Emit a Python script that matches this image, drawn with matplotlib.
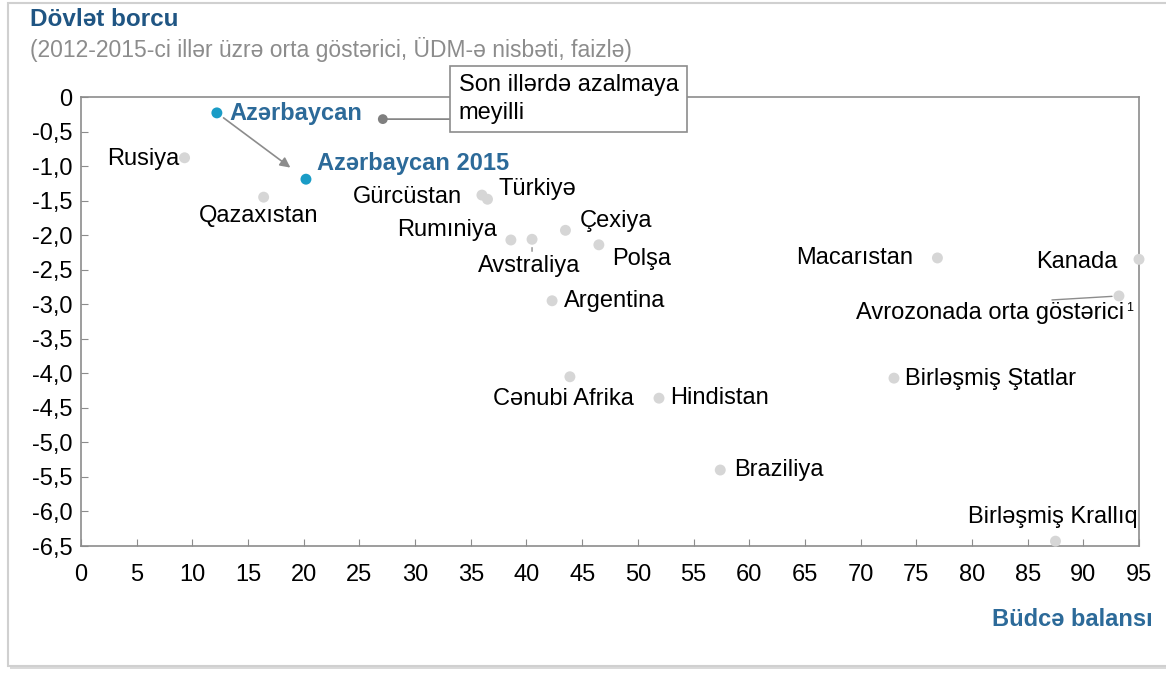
import matplotlib.pyplot as plt
from matplotlib.patches import Rectangle

plt.rcParams['font.family'] = ['Liberation Sans', 'DejaVu Sans']

# Data (x = Büdcə balansı, y = Dövlət borcu)
countries = ['Rusiya', 'Qazaxıstan', 'Gürcüstan', 'Türkiyə', 'Rumıniya', 'Avstraliya',
             'Çexiya', 'Polşa', 'Argentina', 'Cənubi Afrika', 'Hindistan', 'Braziliya',
             'Macarıstan', 'Kanada', 'Avrozonada orta göstərici', 'Birləşmiş Ştatlar',
             'Birləşmiş Krallıq']
x_vals = [9.3, 16.4, 36.0, 36.5, 38.6, 40.5, 43.5, 46.5, 42.3, 43.9, 51.9, 57.4,
          76.9, 95.0, 93.2, 73.0, 87.5]
y_vals = [-0.88, -1.45, -1.42, -1.48, -2.07, -2.06, -1.93, -2.14, -2.95, -4.05, -4.36, -5.40,
          -2.33, -2.35, -2.88, -4.07, -6.43]

aze_x, aze_y = 12.2, -0.23
aze15_x, aze15_y = 20.2, -1.19
trend_x, trend_y = 27.1, -0.32

x_ticks = list(range(0, 96, 5))
y_ticks = [0, -0.5, -1, -1.5, -2, -2.5, -3, -3.5, -4, -4.5, -5, -5.5, -6, -6.5]
y_tick_labels = ['0', '-0,5', '-1,0', '-1,5', '-2,0', '-2,5', '-3,0', '-3,5',
                 '-4,0', '-4,5', '-5,0', '-5,5', '-6,0', '-6,5']

# label offsets in pixels (dx, dy down) and alignment
label_pos = {
    'Rusiya': (-5, 1, 'right'),
    'Qazaxıstan': (-5, 19, 'center'),
    'Gürcüstan': (-20, 2, 'right'),
    'Türkiyə': (11, -10, 'left'),
    'Rumıniya': (-14, -10, 'right'),
    'Avstraliya': (-3, 27, 'center'),
    'Çexiya': (14, -9, 'left'),
    'Polşa': (13, 14, 'left'),
    'Argentina': (12, 0, 'left'),
    'Cənubi Afrika': (-6, 22, 'center'),
    'Hindistan': (11, 0, 'left'),
    'Braziliya': (14, 0, 'left'),
    'Macarıstan': (-24, 0, 'right'),
    'Kanada': (-22, 3, 'right'),
    'Avrozonada orta göstərici': (5, 17, 'right'),
    'Birləşmiş Ştatlar': (11, 1, 'left'),
    'Birləşmiş Krallıq': (-3, -24, 'center'),
}

FS = 17
W, H = 1166, 675
fig = plt.figure(figsize=(W / 100, H / 100), dpi=100)

# outer frame with a soft shadow
fig.patches.append(Rectangle((10 / W, 1 - 669 / H), 1.2, 665 / H, transform=fig.transFigure,
                             facecolor='#DADADA', edgecolor='none', zorder=-2))
fig.patches.append(Rectangle((8 / W, 1 - 666 / H), 1.2, 663 / H, transform=fig.transFigure,
                             facecolor='white', edgecolor='#D0D0D0', lw=1.5, zorder=-1))

ax = fig.add_axes([81 / W, 1 - 546 / H, (1139 - 81) / W, (546 - 97) / H])
ax.set_facecolor('none')
ax.set_xlim(0, 95)
ax.set_ylim(-6.5, 0)

for s in ax.spines.values():
    s.set_color('#8C8C8C')
    s.set_linewidth(1.2)

ax.set_xticks(x_ticks)
ax.set_yticks(y_ticks)
ax.set_yticklabels(y_tick_labels)
ax.tick_params(axis='x', direction='in', length=5, color='#8C8C8C', pad=13, labelsize=FS)
ax.tick_params(axis='y', direction='in', length=5, color='#8C8C8C', pad=6, labelsize=FS)

px = 0.72  # pixels -> points

ax.scatter(x_vals, y_vals, s=62, color='#D6D6D6', zorder=3, clip_on=False, edgecolors='none')
for name, xv, yv in zip(countries, x_vals, y_vals):
    dx, dy, ha = label_pos[name]
    ax.annotate(name, (xv, yv), xytext=(dx * px, -dy * px), textcoords='offset points',
                ha=ha, va='center', fontsize=FS, color='black', annotation_clip=False)

# Avstraliya small tick and Avrozona leader line
ax.annotate('', xy=(40.5, -2.06), xytext=(0, -12 * px), textcoords='offset points',
            arrowprops=dict(arrowstyle='-', color='#8C8C8C', lw=1, shrinkA=0, shrinkB=6))
ax.annotate('', xy=(93.2, -2.88), xytext=(-67 * px, -4 * px), textcoords='offset points',
            arrowprops=dict(arrowstyle='-', color='#8C8C8C', lw=1, shrinkA=0, shrinkB=5))
ax.annotate('1', (93.2, -2.88), xytext=(11 * px, -12 * px), textcoords='offset points',
            ha='center', va='center', fontsize=9, color='black', annotation_clip=False)

# Azerbaijan
ax.scatter([aze_x, aze15_x], [aze_y, aze15_y], s=62, color='#1A9CC6', zorder=4,
           edgecolors='none')
ax.annotate('', xy=(aze15_x, aze15_y), xytext=(aze_x, aze_y), textcoords='data',
            arrowprops=dict(arrowstyle='-|>,head_length=0.6,head_width=0.3', color='#8C8C8C',
                            lw=1.2, shrinkA=6, shrinkB=14))
ax.annotate('Azərbaycan', (aze_x, aze_y), xytext=(13 * px, -1 * px), textcoords='offset points',
            ha='left', va='center', fontsize=FS, fontweight='bold', color='#2C6A99')
ax.annotate('Azərbaycan 2015', (aze15_x, aze15_y), xytext=(11 * px, 16 * px),
            textcoords='offset points', ha='left', va='center', fontsize=FS,
            fontweight='bold', color='#2C6A99')

# trend note: horizontal leader from the dot to the box
ax.scatter([trend_x], [trend_y], s=50, color='#7F7F7F', zorder=4, edgecolors='none')
ax.annotate('', xy=(trend_x, trend_y), xytext=(33.1, trend_y), textcoords='data',
            annotation_clip=False,
            arrowprops=dict(arrowstyle='-', color='#7F7F7F', lw=1.2, shrinkA=0, shrinkB=0))
ax.text(33.9, -0.03, 'Son illərdə azalmaya\nmeyilli', ha='left', va='center', fontsize=FS,
        linespacing=1.35, zorder=5,
        bbox=dict(boxstyle='square,pad=0.35', facecolor='white', edgecolor='#8C8C8C', lw=1.2))

# titles
fig.text(30 / W, 1 - 20 / H, 'Dövlət borcu', ha='left', va='center', fontsize=17.5,
         fontweight='bold', color='#1F5583')
fig.text(30 / W, 1 - 50 / H, '(2012-2015-ci illər üzrə orta göstərici, ÜDM-ə nisbəti, faizlə)',
         ha='left', va='center', fontsize=16.5, color='#8C8C8C')
fig.text(1153 / W, 1 - 620 / H, 'Büdcə balansı', ha='right', va='center', fontsize=17,
         fontweight='bold', color='#2C6A99')

fig.savefig('out.png', dpi=100)
